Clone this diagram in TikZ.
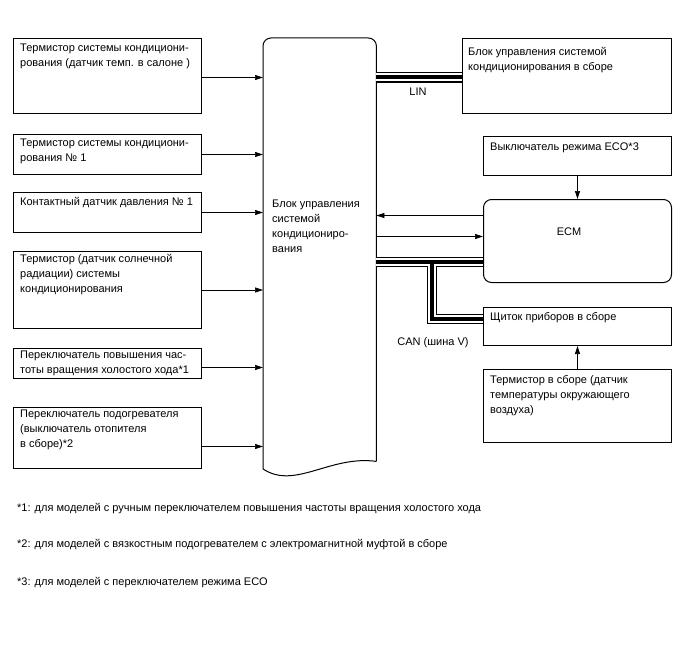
\documentclass[tikz,border=0pt]{standalone}
\usepackage{fontspec}
\setmainfont{Liberation Sans}
\usetikzlibrary{arrows.meta}
\newcommand\busline[1]{%
  \draw[line width=10.5pt] #1;
  \draw[white,line width=8pt] #1;
  \draw[line width=4pt] #1;}
\newcommand\bxat[5]{\node[bx, minimum width=#4pt, minimum height=#5pt] (#1) at (#2,#3) {};}
\begin{document}
\begin{tikzpicture}[x=1pt,y=-1pt,
  bx/.style={draw, line width=1pt, inner sep=0pt, anchor=north west},
  txt/.style={anchor=north west, inner sep=0pt, align=left, font=\fontsize{11}{15}\selectfont},
  lbl/.style={inner sep=0pt, font=\fontsize{11}{15}\selectfont},
  arr/.style={line width=0.7pt, -{Triangle[length=8pt,width=5pt]}},
]
\useasboundingbox (0,0) rectangle (688,658);

% left boxes
\bxat{A}{13}{38}{188}{75}
\bxat{B}{13}{134}{188}{40}
\bxat{C}{13}{192}{188}{40}
\bxat{D}{13}{251}{188}{77}
\bxat{E}{13}{348}{188}{30}
\bxat{F}{13}{407}{188}{61}
% right boxes
\bxat{LB}{462}{38}{209}{75}
\bxat{ECO}{483}{136}{188}{39}
\node[bx, rounded corners=8pt, minimum width=188pt, minimum height=83pt] (ECM) at (483,199) {};
\bxat{SHC}{483}{307}{188}{38}
\bxat{TA}{483}{369}{188}{73}

% central unit
\node[inner sep=0pt, anchor=north west, minimum width=113pt, minimum height=423pt] (M) at (263,38) {};
\draw[line width=1pt, rounded corners=8pt] (263,469) -- (M.north west) -- (M.north east) -- (M.south east);
\draw[line width=1pt] (M.south east) .. controls (330,455) and (295,490) .. (263,469);

% texts
\node[txt] (tA) at (20,44) {Термистор системы кондициони-\\рования (датчик темп. в салоне )};
\node[txt] (tB) at (20,139) {Термистор системы кондициони-\\рования № 1};
\node[txt] (tC) at (20,197) {Контактный датчик давления № 1};
\node[txt] (tD) at (20,254) {Термистор (датчик солнечной\\радиации) системы\\кондиционирования};
\node[txt] (tE) at (20,351) {Переключатель повышения час-\\тоты вращения холостого хода*1};
\node[txt] (tF) at (20,410) {Переключатель подогревателя\\(выключатель отопителя\\в сборе)*2};
\node[txt] (tLB) at (468,47) {Блок управления системой\\кондиционирования в сборе};
\node[txt] (tECO) at (490,143) {Выключатель режима ECO*3};
\node[txt] (tSHC) at (490,312) {Щиток приборов в сборе};
\node[txt] (tTA) at (490,375) {Термистор в сборе (датчик\\температуры окружающего\\воздуха)};
\node[txt] (tM) at (272,200) {Блок управления\\системой\\кондициониро-\\вания};
\node[lbl] (tECM) at (569,232) {ECM};
\node[lbl] (tLIN) at (418,92) {LIN};
\node[lbl] (tCAN) at (433,343) {CAN (шина V)};

% footnotes
\node[txt, anchor=west] (n1) at (17,509) {*1: для моделей с ручным переключателем повышения частоты вращения холостого хода};
\node[txt, anchor=west] (n2) at (17,545) {*2: для моделей с вязкостным подогревателем с электромагнитной муфтой в сборе};
\node[txt, anchor=west] (n3) at (17,583) {*3: для моделей с переключателем режима ECO};

% input arrows
\draw[arr] ([yshift=-1.5pt]A.east) coordinate (a1) -- (a1 -| M.west);
\draw[arr] (B.east) -- (B.east -| M.west);
\draw[arr] (C.east) -- (C.east -| M.west);
\draw[arr] (D.east) -- (D.east -| M.west);
\draw[arr] ([yshift=-4pt]E.east) coordinate (e1) -- (e1 -| M.west);
\draw[arr] ([yshift=-8.5pt]F.east) coordinate (f1) -- (f1 -| M.west);

% ECM links
\draw[arr] ([yshift=25.5pt]ECM.west) coordinate (m1) -- (m1 -| M.east);
\draw[arr] ([yshift=4.5pt]ECM.west -| M.east) -- ([yshift=4.5pt]ECM.west);
\draw[arr] (ECO.south) -- (ECM.north);
\draw[arr] (TA.north) -- (SHC.south);

% LIN bus
\coordinate (l1) at ([yshift=-1.5pt]LB.west);
\busline{(l1 -| M.east) -- (l1)}

% CAN bus
\coordinate (c1) at ([yshift=-21pt]ECM.west);
\coordinate (c2) at ([yshift=7.5pt]SHC.west);
\coordinate (cb) at (432,0);
\busline{(c1 -| M.east) -- (c1) (cb |- c1) -- (cb |- c2) -- (c2)}
\end{tikzpicture}
\end{document}
